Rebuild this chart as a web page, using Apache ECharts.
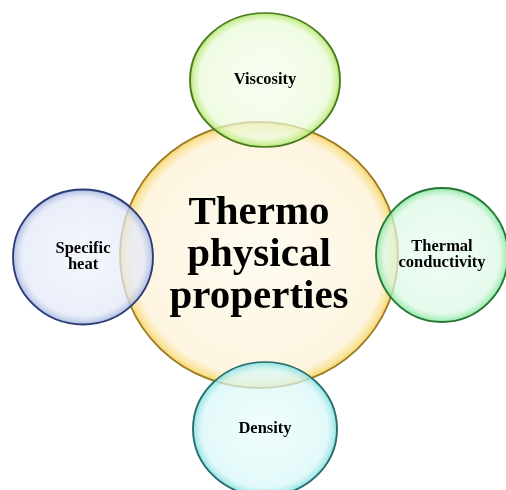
<!DOCTYPE html>
<html>
<head>
<meta charset="utf-8">
<script src="https://cdn.jsdelivr.net/npm/echarts@6/dist/echarts.min.js"></script>
<style>html,body{margin:0;padding:0;background:#fff;}#c{width:506px;height:490px;}</style>
</head>
<body>
<div id="c"></div>
<script>
// Node labels (centre first, then satellites)
const labels = ['Thermo\nphysical\nproperties', 'Viscosity', 'Specific\nheat', 'Thermal\nconductivity', 'Density'];
// Node centre positions (diagram units = pixels of the 506x490 canvas)
const centerX = [259, 265, 83, 442, 265];
const centerY = [255, 80, 257, 255, 429];
// Node extents (width, height)
const nodeW = [278, 150, 140, 132, 144];
const nodeH = [266, 134, 135, 134, 134];

const styles = [
  {stops: ['rgba(255,251,241,1)', 'rgba(253,245,224,1)', 'rgba(250,228,156,1)', 'rgba(244,206,90,1)'], offs: [0, 0.9, 0.965, 1], border: '#9a7a22', font: 41, lh: 42},
  {stops: ['rgba(246,253,238,0.7)', 'rgba(234,250,216,0.72)', 'rgba(196,238,140,0.82)', 'rgba(150,222,80,0.92)'], offs: [0, 0.86, 0.95, 1], border: '#4a7a1c', font: 16.5, lh: 16},
  {stops: ['rgba(240,243,251,0.7)', 'rgba(226,232,247,0.72)', 'rgba(184,198,232,0.82)', 'rgba(140,160,214,0.92)'], offs: [0, 0.86, 0.95, 1], border: '#2c3b76', font: 16.5, lh: 16},
  {stops: ['rgba(236,252,242,0.7)', 'rgba(218,248,228,0.72)', 'rgba(160,236,180,0.82)', 'rgba(100,220,134,0.92)'], offs: [0, 0.86, 0.95, 1], border: '#277536', font: 16.5, lh: 16},
  {stops: ['rgba(234,252,252,0.7)', 'rgba(216,247,247,0.72)', 'rgba(160,232,232,0.82)', 'rgba(100,214,214,0.92)'], offs: [0, 0.86, 0.95, 1], border: '#276b6b', font: 16.5, lh: 16}
];

const ellipse = 'path://M0,50 A50,50 0 1,1 100,50 A50,50 0 1,1 0,50 Z';

const data = labels.map((name, i) => ({
  name: name,
  value: [centerX[i], centerY[i]],
  symbol: ellipse,
  symbolSize: [nodeW[i], nodeH[i]],
  itemStyle: {
    color: new echarts.graphic.RadialGradient(0.5, 0.5, 0.5,
      styles[i].stops.map((c, k) => ({offset: styles[i].offs[k], color: c}))),
    borderColor: styles[i].border,
    borderWidth: 1.8,
    opacity: 1
  },
  label: {
    show: true,
    position: 'inside',
    formatter: name,
    fontFamily: 'Liberation Serif',
    fontWeight: 'bold',
    fontSize: styles[i].font,
    lineHeight: styles[i].lh,
    color: '#000'
  }
}));

const chart = echarts.init(document.getElementById('c'), null, {renderer: 'canvas'});
chart.setOption({
  backgroundColor: '#ffffff',
  animation: false,
  grid: {left: 0, right: 0, top: 0, bottom: 0},
  xAxis: {type: 'value', min: 0, max: 506, show: false},
  yAxis: {type: 'value', min: 0, max: 490, inverse: true, show: false},
  series: [{
    type: 'scatter',
    data: data,
    silent: true,
    emphasis: {disabled: true}
  }]
});
</script>
</body>
</html>
